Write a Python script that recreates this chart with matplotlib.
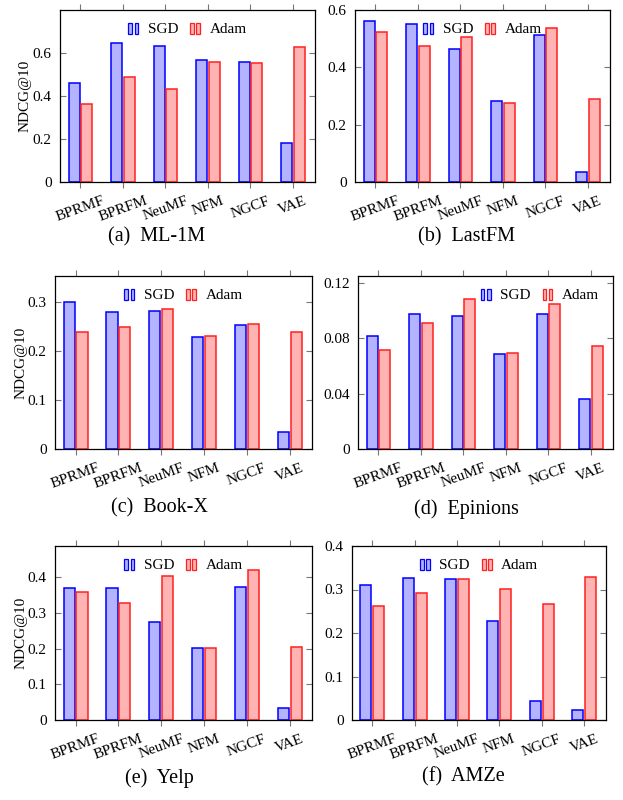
import matplotlib
matplotlib.use("Agg")
import matplotlib.pyplot as plt
import numpy as np
from matplotlib.patches import Rectangle
from matplotlib.legend_handler import HandlerBase

plt.rcParams['font.family'] = ['Liberation Serif', 'DejaVu Serif']

models = ["BPRMF", "BPRFM", "NeuMF", "NFM", "NGCF", "VAE"]
series_names = ["SGD", "Adam"]

ml1m_sgd = [0.460, 0.648, 0.631, 0.566, 0.558, 0.180]
ml1m_adam = [0.364, 0.487, 0.434, 0.558, 0.552, 0.629]
lastfm_sgd = [0.560, 0.552, 0.463, 0.281, 0.512, 0.034]
lastfm_adam = [0.524, 0.475, 0.506, 0.274, 0.536, 0.291]
bookx_sgd = [0.2986, 0.278, 0.2817, 0.2288, 0.2525, 0.0339]
bookx_adam = [0.2376, 0.2485, 0.2857, 0.2302, 0.2539, 0.2383]
epinions_sgd = [0.0819, 0.0978, 0.0959, 0.0689, 0.0973, 0.0359]
epinions_adam = [0.0718, 0.0908, 0.1082, 0.0692, 0.1051, 0.0747]
yelp_sgd = [0.3705, 0.3705, 0.273, 0.2024, 0.3723, 0.0334]
yelp_adam = [0.3584, 0.3268, 0.4039, 0.2015, 0.4197, 0.2052]
amze_sgd = [0.3107, 0.326, 0.3238, 0.2274, 0.0432, 0.0224]
amze_adam = [0.2614, 0.293, 0.3238, 0.3015, 0.266, 0.3285]

captions = ["(a)  ML-1M", "(b)  LastFM", "(c)  Book-X", "(d)  Epinions", "(e)  Yelp", "(f)  AMZe"]
yticks_a = [0, 0.2, 0.4, 0.6]
yticks_b = [0, 0.2, 0.4, 0.6]
yticks_c = [0, 0.1, 0.2, 0.3]
yticks_d = [0, 0.04, 0.08, 0.12]
yticks_e = [0, 0.1, 0.2, 0.3, 0.4]
yticks_f = [0, 0.1, 0.2, 0.3, 0.4]
ytl_a = ["0", "0.2", "0.4", "0.6"]
ytl_b = ["0", "0.2", "0.4", "0.6"]
ytl_c = ["0", "0.1", "0.2", "0.3"]
ytl_d = ["0", "0.04", "0.08", "0.12"]
ytl_e = ["0", "0.1", "0.2", "0.3", "0.4"]
ytl_f = ["0", "0.1", "0.2", "0.3", "0.4"]

W, H = 623, 800
fig = plt.figure(figsize=(W / 100, H / 100), dpi=100)

SGD_FC, SGD_EC = "#b3b3ff", "#0000ff"
ADAM_FC, ADAM_EC = "#ffb3b3", "#ff2020"


class TwoBarHandler(HandlerBase):
    def __init__(self, fc, ec):
        super().__init__()
        self.fc = fc
        self.ec = ec

    def create_artists(self, legend, orig_handle, xdescent, ydescent,
                       width, height, fontsize, trans):
        bw = width * 0.33
        gap = width * 0.2
        x0 = -xdescent
        y0 = -ydescent - height * 0.05
        h = height * 1.0
        r1 = Rectangle((x0, y0), bw, h, facecolor=self.fc, edgecolor=self.ec,
                       linewidth=0.9, transform=trans)
        r2 = Rectangle((x0 + bw + gap, y0), bw, h, facecolor=self.fc,
                       edgecolor=self.ec, linewidth=0.9, transform=trans)
        return [r1, r2]


def px_rect(x0, y0, x1, y1):
    return [x0 / W, 1 - y1 / H, (x1 - x0) / W, (y1 - y0) / H]


panels = [
    (px_rect(60, 10, 315, 182), ml1m_sgd, ml1m_adam, (0, 0.8), yticks_a, ytl_a, True, "upper center", (0.5, 0.98), -0.11),
    (px_rect(355, 10, 610, 182), lastfm_sgd, lastfm_adam, (0, 0.6), yticks_b, ytl_b, False, "upper center", (0.5, 0.98), None),
    (px_rect(55, 276, 312, 449), bookx_sgd, bookx_adam, (0, 0.352), yticks_c, ytl_c, True, "upper center", (0.5, 0.98), -0.105),
    (px_rect(358, 276, 613, 449), epinions_sgd, epinions_adam, (0, 0.125), yticks_d, ytl_d, False, "upper right", (0.98, 0.98), None),
    (px_rect(55, 546, 312, 720), yelp_sgd, yelp_adam, (0, 0.487), yticks_e, ytl_e, True, "upper center", (0.5, 0.98), -0.105),
    (px_rect(352, 546, 606, 720), amze_sgd, amze_adam, (0, 0.4), yticks_f, ytl_f, False, "upper center", (0.5, 0.98), None),
]

x = np.arange(len(models))
bw = 0.26
off = 0.15

for rect, sgd, adam, ylim, yt, ytl, ylabel, loc, anchor, lblx in panels:
    ax = fig.add_axes(rect)
    b1 = ax.bar(x - off, sgd, bw, facecolor=SGD_FC, edgecolor=SGD_EC, linewidth=1.1, label=series_names[0])
    b2 = ax.bar(x + off, adam, bw, facecolor=ADAM_FC, edgecolor=ADAM_EC, linewidth=1.1, label=series_names[1])
    ax.set_xlim(-0.48, 5.52)
    ax.set_ylim(*ylim)
    ax.set_xticks(x)
    ax.set_xticklabels(models, rotation=20, fontsize=11)
    ax.set_yticks(yt)
    ax.set_yticklabels(ytl, fontsize=11)
    ax.tick_params(axis='x', direction='out', top=True, bottom=True, length=4,
                   color='#777777', width=0.8, pad=5)
    ax.tick_params(axis='y', direction='in', left=True, right=True, length=4,
                   color='#777777', width=0.8, pad=6)
    for s in ax.spines.values():
        s.set_linewidth(0.9)
        s.set_color('black')
    if ylabel:
        ax.set_ylabel("NDCG@10", fontsize=11)
        ax.yaxis.set_label_coords(lblx, 0.5)
    ax.legend([b1, b2], series_names, loc=loc, bbox_to_anchor=anchor, ncol=2,
              frameon=False, fontsize=11, handlelength=0.75, handleheight=0.7,
              handletextpad=0.5, columnspacing=0.8, borderaxespad=0.2,
              handler_map={b1: TwoBarHandler(SGD_FC, SGD_EC),
                           b2: TwoBarHandler(ADAM_FC, ADAM_EC)})

cap_pos = [(157, 237), (467, 237), (159, 508), (466, 509), (159, 778), (463, 777)]
for (cx, cy), cap in zip(cap_pos, captions):
    fig.text(cx / W, 1 - cy / H, cap, ha='center', va='center', fontsize=14.5)

fig.savefig("out.png", dpi=100)
